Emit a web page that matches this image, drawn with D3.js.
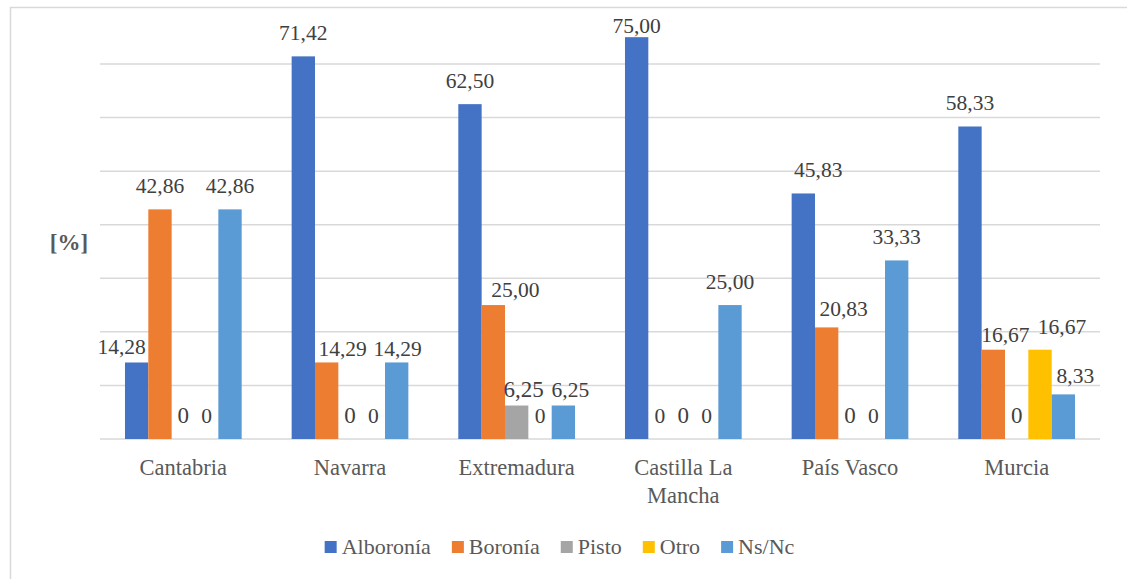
<!DOCTYPE html>
<html>
<head>
<meta charset="utf-8">
<script src="https://cdn.jsdelivr.net/npm/d3@7"></script>
<style>
  body { margin: 0; background: #fff; }
</style>
</head>
<body>
<div id="chart-area"></div>
<script>
// data
const regions = ["Cantabria", "Navarra", "Extremadura", "Castilla La Mancha", "País Vasco", "Murcia"];
const seriesNames = ["Alboronía", "Boronía", "Pisto", "Otro", "Ns/Nc"];
const alboronia = [14.28, 71.42, 62.50, 75.00, 45.83, 58.33];
const boronia   = [42.86, 14.29, 25.00, 0, 20.83, 16.67];
const pisto     = [0, 0, 6.25, 0, 0, 0];
const otro      = [0, 0, 0, 0, 0, 16.67];
const nsnc      = [42.86, 14.29, 6.25, 25.00, 33.33, 8.33];
const yTicks = [0, 10, 20, 30, 40, 50, 60, 70];

const colors = ["#4472C4", "#ED7D31", "#A5A5A5", "#FFC000", "#5B9BD5"];
const fontFam = "'Liberation Serif', 'Times New Roman', 'Liberation Sans', Arial, sans-serif";

// label nudges (Excel moved some labels off the bar to avoid overlap)
const nudge = {
    "Cantabria|Alboronía": [-15, 8],
    "Navarra|Boronía": [16, 10],
    "Navarra|Ns/Nc": [1, 10],
    "Extremadura|Boronía": [22, 8],
    "Extremadura|Pisto": [7, 7],
    "Extremadura|Ns/Nc": [7, 7],
    "Castilla La Mancha|Alboronía": [0, 12],
    "País Vasco|Alboronía": [15, 0],
    "País Vasco|Boronía": [17, 5],
    "Murcia|Boronía": [12, 8],
    "Murcia|Otro": [22, 0],
    "Murcia|Ns/Nc": [12, 5]
};

let allSeries = [alboronia, boronia, pisto, otro, nsnc];
let data = regions.map((r, i) => {
    return {
        region: r,
        values: seriesNames.map((s, j) => ({region: r, series: s, idx: j, value: allSeries[j][i]}))
    };
});

let width = 1127, height = 579;
let plotLeft = 100, plotRight = 1100, plotBottom = 439, plotTop = 10.4;

const svg = d3.select("#chart-area").append("svg")
    .attr("width", width)
    .attr("height", height)
    .style("font-family", fontFam)

// chart frame
svg.append("rect")
    .attr("x", 10.5)
    .attr("y", 7.5)
    .attr("width", 1130)
    .attr("height", 590)
    .attr("fill", "none")
    .attr("stroke", "#D9D9D9")
    .attr("stroke-width", 1.5)

const x0 = d3.scaleBand()
    .domain(regions)
    .range([plotLeft, plotRight])

const x1 = d3.scaleBand()
    .domain(seriesNames)
    .range([0, x0.bandwidth()])
    .paddingOuter(1.07)

const y = d3.scaleLinear()
    .domain([0, 80])
    .range([plotBottom, plotTop])

// gridlines
svg.append("g")
    .selectAll("line")
    .data(yTicks)
    .enter()
    .append("line")
        .attr("x1", plotLeft)
        .attr("x2", plotRight)
        .attr("y1", d => y(d))
        .attr("y2", d => y(d))
        .attr("stroke", "#D9D9D9")
        .attr("stroke-width", 1.5)

// bars
const groups = svg.append("g")
    .selectAll("g")
    .data(data)
    .enter()
    .append("g")
        .attr("transform", d => `translate(${x0(d.region)},0)`)

groups.selectAll("rect")
    .data(d => d.values.filter(v => v.value > 0))
    .enter()
    .append("rect")
        .attr("x", d => x1(d.series))
        .attr("y", d => y(d.value))
        .attr("width", x1.bandwidth())
        .attr("height", d => y(0) - y(d.value))
        .attr("fill", d => colors[d.idx])

// data labels
groups.selectAll("text")
    .data(d => d.values)
    .enter()
    .append("text")
        .attr("x", d => x1(d.series) + x1.bandwidth() / 2 + (nudge[d.region + "|" + d.series] || [0, 0])[0])
        .attr("y", d => y(d.value) - 16 + (nudge[d.region + "|" + d.series] || [0, 0])[1])
        .attr("text-anchor", "middle")
        .attr("font-size", d => d.series == "Pisto" ? "23px" : "21.5px")
        .attr("fill", "#404040")
        .text(d => d.value === 0 ? "0" : d.value.toFixed(2).replace(".", ","))

// x axis labels
const xLabels = svg.append("g")
    .selectAll("text")
    .data(regions)
    .enter()
    .append("text")
        .attr("x", d => x0(d) + x0.bandwidth() / 2)
        .attr("y", 475)
        .attr("text-anchor", "middle")
        .attr("font-size", "22.5px")
        .attr("fill", "#595959")

xLabels.each(function(d){
    let lines = d == "Castilla La Mancha" ? ["Castilla La", "Mancha"] : [d];
    let t = d3.select(this);
    lines.forEach((l, i) => {
        t.append("tspan")
            .attr("x", x0(d) + x0.bandwidth() / 2)
            .attr("dy", i == 0 ? 0 : 27.5)
            .text(l)
    })
})

// y axis title
svg.append("text")
    .attr("x", 69)
    .attr("y", 250)
    .attr("text-anchor", "middle")
    .attr("font-size", "23px")
    .attr("font-weight", "bold")
    .attr("fill", "#595959")
    .text("[%]")

// legend
const legend = svg.append("g")
let lx = 0;
seriesNames.forEach((s, i) => {
    let item = legend.append("g").attr("transform", `translate(${lx},0)`)
    item.append("rect")
        .attr("x", 0)
        .attr("y", 541)
        .attr("width", 12)
        .attr("height", 12)
        .attr("fill", colors[i])
    let t = item.append("text")
        .attr("x", 17)
        .attr("y", 554)
        .attr("font-size", "22px")
        .attr("fill", "#595959")
        .text(s)
    lx += 17 + t.node().getComputedTextLength() + 21;
})
lx -= 21;
legend.attr("transform", `translate(${559.5 - lx / 2},0)`)
</script>
</body>
</html>
